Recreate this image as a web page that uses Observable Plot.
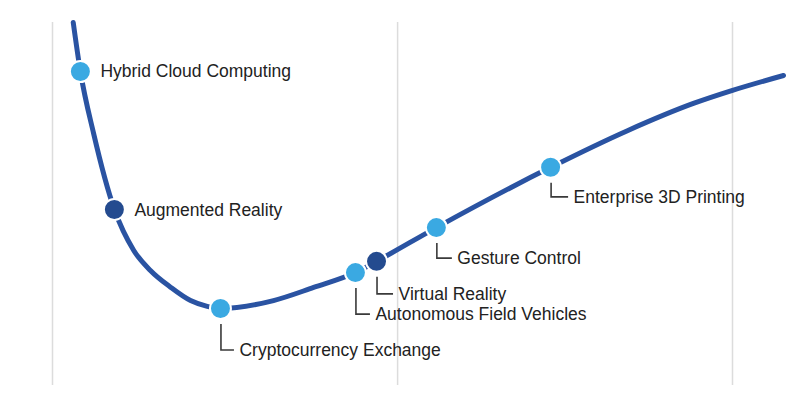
<!DOCTYPE html>
<html>
<head>
<meta charset="utf-8">
<script src="https://cdn.jsdelivr.net/npm/d3@7"></script>
<script src="https://cdn.jsdelivr.net/npm/@observablehq/plot@0.6"></script>
<style>
  html, body { margin: 0; padding: 0; background: #fff; }
  #chart svg { display: block; }
</style>
</head>
<body>
<div id="chart"></div>
<script>
// Curve (time vs. expectations)
const curveTime = [6.1, 8.2, 12.1, 18.2, 23.9, 28.8, 34.7, 40.6, 45.5, 49.4, 65.0, 76.8, 89.1, 95.3, 112.9, 146.5, 169.1, 188.5, 200, 215];
const curveExpect = [100, 86.5, 69.4, 48.5, 37.2, 31.7, 27.1, 23.4, 21.8, 21.2, 23.4, 27.0, 31.1, 34.2, 43.5, 60.1, 70.2, 77.7, 81.3, 85.4];

// Technologies on the curve
const techNames = ["Hybrid Cloud Computing", "Augmented Reality", "Cryptocurrency Exchange", "Autonomous Field Vehicles", "Virtual Reality", "Gesture Control", "Enterprise 3D Printing"];
const techTime = [8.2, 18.2, 49.4, 89.1, 95.3, 112.9, 146.5];
const techExpect = [86.5, 48.5, 21.2, 31.1, 34.2, 43.5, 60.1];
const techGroup = ["light", "dark", "light", "light", "dark", "light", "light"];

// Phase separators
const phaseLines = [0, 101.5, 200];

const curve = curveTime.map((t, i) => ({t, e: curveExpect[i]}));
const techs = techNames.map((name, i) => ({name, t: techTime[i], e: techExpect[i], group: techGroup[i]}));

// label layout (pixels): [dx, dy, leader?]
const labelLayout = {
  "Hybrid Cloud Computing": [20, 0, false],
  "Augmented Reality": [20, 1, false],
  "Cryptocurrency Exchange": [19, 42, true],
  "Autonomous Field Vehicles": [20, 42, true],
  "Virtual Reality": [22, 33, true],
  "Gesture Control": [21, 31, true],
  "Enterprise 3D Printing": [23, 30, true]
};

const FONT = "'Liberation Sans', Arial, Helvetica, sans-serif";

function leaders(index, scales) {
  const g = d3.create("svg:g");
  for (const d of techs) {
    const [dx, dy, lead] = labelLayout[d.name];
    if (!lead) continue;
    const x = scales.x(d.t) + 1;
    const y = scales.y(d.e);
    g.append("path")
      .attr("d", `M${x},${y + 16}V${y + dy}H${x + dx - 6}`)
      .attr("fill", "none")
      .attr("stroke", "#3a3a3a")
      .attr("stroke-width", 1.6);
  }
  return g.node();
}

const labelMarks = techs.map(d => {
  const [dx, dy] = labelLayout[d.name];
  return Plot.text([d], {
    x: "t", y: "e", text: "name",
    dx, dy,
    textAnchor: "start",
    fill: "#222",
    fontSize: 17.5,
    fontFamily: FONT
  });
});

const chart = Plot.plot({
  width: 800,
  height: 417,
  marginLeft: 52,
  marginRight: 68,
  marginTop: 22,
  marginBottom: 32,
  x: {domain: [0, 200], axis: null},
  y: {domain: [0, 100], axis: null},
  color: {domain: ["light", "dark"], range: ["#3aa9e2", "#244b8f"]},
  style: {fontFamily: FONT, background: "#fff"},
  marks: [
    Plot.ruleX(phaseLines, {x: d => d, y1: 0, y2: 100, stroke: "#dcdcdc", strokeWidth: 1.5}),
    Plot.line(curve, {x: "t", y: "e", curve: "monotone-x", stroke: "#2a53a2", strokeWidth: 5}),
    leaders,
    Plot.dot(techs, {x: "t", y: "e", r: 10.5, fill: "group", stroke: "#fff", strokeWidth: 2}),
    ...labelMarks
  ]
});

document.getElementById("chart").appendChild(chart);
</script>
</body>
</html>
